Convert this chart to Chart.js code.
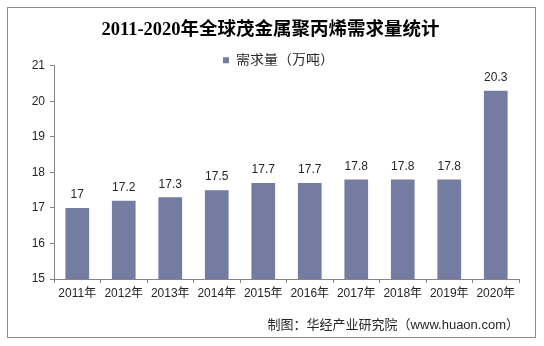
<!DOCTYPE html>
<html>
<head>
<meta charset="utf-8">
<script src="https://cdn.jsdelivr.net/npm/chart.js@4"></script>
<style>
html,body{margin:0;padding:0;background:#fff;}
#wrap{width:544px;height:346px;position:relative;}
</style>
</head>
<body>
<div id="wrap"><canvas id="c" width="544" height="346"></canvas></div>
<script>
const categories = ['2011年','2012年','2013年','2014年','2015年','2016年','2017年','2018年','2019年','2020年'];
const demand = [17, 17.2, 17.3, 17.5, 17.7, 17.7, 17.8, 17.8, 17.8, 20.3];
const seriesName = '需求量（万吨）';
const titleText = '2011-2020年全球茂金属聚丙烯需求量统计';
const sourceText = '制图：华经产业研究院（www.huaon.com）';
const yMin = 15, yMax = 21, yStep = 1;

const SANS = '"Liberation Sans", Arial, "Noto Sans CJK SC", sans-serif';
const SERIF = '"Liberation Serif", "Times New Roman", "Noto Sans CJK SC", serif';
const TEXT = '#262626';
const AXIS = '#868686';
const BAR = '#747ca2';

const framePlugin = {
  id: 'frame',
  beforeDraw(chart) {
    const ctx = chart.ctx;
    ctx.save();
    ctx.fillStyle = '#fff';
    ctx.fillRect(0, 0, chart.width, chart.height);
    ctx.strokeStyle = '#8c8c8c';
    ctx.lineWidth = 1;
    ctx.strokeRect(7.5, 7.5, 528, 330);
    ctx.restore();
  }
};

const shiftPlugin = {
  id: 'shift',
  afterLayout(chart) {
    const lg = chart.legend;
    if (lg) { lg.left += 8; lg.right += 8; }
  }
};

const labelPlugin = {
  id: 'barLabels',
  afterDatasetsDraw(chart) {
    const ctx = chart.ctx;
    const meta = chart.getDatasetMeta(0);
    ctx.save();
    ctx.font = '12px ' + SANS;
    ctx.fillStyle = TEXT;
    ctx.textAlign = 'center';
    ctx.textBaseline = 'middle';
    meta.data.forEach((bar, i) => {
      ctx.fillText(String(demand[i]), bar.x, bar.y - 13);
    });
    ctx.restore();
  }
};

new Chart(document.getElementById('c'), {
  type: 'bar',
  data: {
    labels: categories,
    datasets: [{
      label: seriesName,
      data: demand,
      backgroundColor: BAR,
      borderWidth: 0,
      categoryPercentage: 1,
      barPercentage: 0.51
    }]
  },
  options: {
    responsive: false,
    animation: false,
    devicePixelRatio: 1,
    layout: { padding: { left: 22, right: 25, top: 0, bottom: 0 } },
    plugins: {
      title: {
        display: true,
        text: titleText,
        color: '#000',
        font: { family: SERIF, size: 18.5, weight: 'bold', lineHeight: 1.2 },
        padding: { top: 18.9, bottom: 12.2 }
      },
      subtitle: {
        display: true,
        position: 'bottom',
        align: 'end',
        text: sourceText,
        color: TEXT,
        font: { family: SANS, size: 13, lineHeight: 1.2 },
        padding: { top: 13.8, bottom: 13.2 }
      },
      legend: {
        display: true,
        position: 'top',
        align: 'center',
        maxHeight: 12.5,
        labels: {
          boxWidth: 6,
          boxHeight: 6,
          padding: 0,
          color: TEXT,
          font: { family: SANS, size: 14 }
        }
      },
      tooltip: { enabled: false }
    },
    scales: {
      x: {
        grid: { display: true, drawOnChartArea: false, drawTicks: true, tickLength: 4, color: AXIS, offset: true },
        border: { display: true, color: AXIS },
        ticks: { color: TEXT, font: { family: SANS, size: 12 }, padding: 3, maxRotation: 0, autoSkip: false }
      },
      y: {
        min: yMin,
        max: yMax,
        afterFit(scale) { scale.width = 32; },
        grid: { display: true, drawOnChartArea: false, drawTicks: true, tickLength: 4, color: AXIS },
        border: { display: true, color: AXIS },
        ticks: { stepSize: yStep, color: TEXT, font: { family: SANS, size: 12 }, padding: 5 }
      }
    }
  },
  plugins: [framePlugin, shiftPlugin, labelPlugin]
});
</script>
</body>
</html>
